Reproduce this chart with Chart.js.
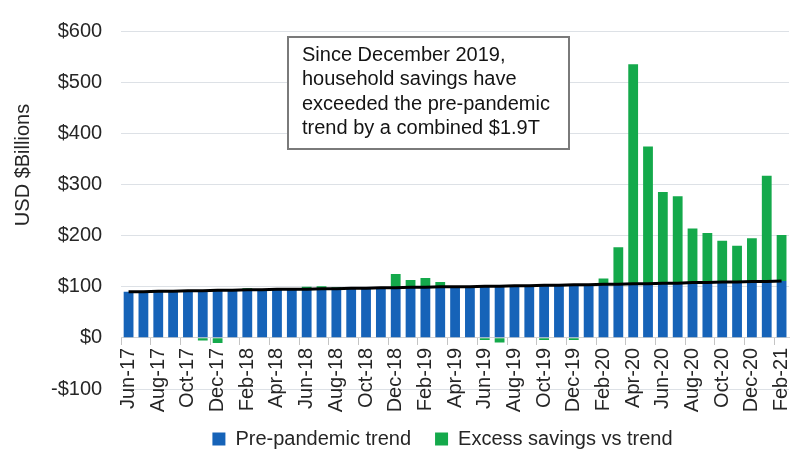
<!DOCTYPE html>
<html>
<head>
<meta charset="utf-8">
<script src="https://cdn.jsdelivr.net/npm/chart.js@4.4.1/dist/chart.umd.min.js"></script>
<style>
  html, body { margin: 0; padding: 0; background: #ffffff; }
  #wrap { width: 797px; height: 451px; }
</style>
</head>
<body>
<div id="wrap"><canvas id="c" width="797" height="451"></canvas></div>
<script>
// ---------- data ----------
const MONTHS = [
  'Jun-17','Jul-17','Aug-17','Sep-17','Oct-17','Nov-17','Dec-17',
  'Jan-18','Feb-18','Mar-18','Apr-18','May-18','Jun-18','Jul-18','Aug-18','Sep-18','Oct-18','Nov-18','Dec-18',
  'Jan-19','Feb-19','Mar-19','Apr-19','May-19','Jun-19','Jul-19','Aug-19','Sep-19','Oct-19','Nov-19','Dec-19',
  'Jan-20','Feb-20','Mar-20','Apr-20','May-20','Jun-20','Jul-20','Aug-20','Sep-20','Oct-20','Nov-20','Dec-20',
  'Jan-21','Feb-21'
];
const PRE_PANDEMIC_TREND = [
  90, 90, 91, 91, 92, 92, 93,
  93, 94, 94, 95, 95, 95, 96, 96, 97, 97, 98, 98,
  99, 99, 100, 100, 100, 101, 101, 102, 102, 103, 103, 104,
  104, 105, 105, 106, 106, 107, 107, 108, 108, 109, 109, 110,
  110, 111
];
const EXCESS_SAVINGS = [
  -1, 0, 0, -1, -1, -5, -10,
  0, 3, 0, 0, 0, 5, 5, 3, 0, 0, 0, 27,
  14, 18, 9, 0, -1, -4, -9, 0, -1, -4, 0, -4,
  0, 11, 72, 429, 268, 178, 170, 106, 97, 81, 71, 85,
  207, 90
];
const Y_TICKS = [-100, 0, 100, 200, 300, 400, 500, 600];
const SERIES_NAMES = ['Pre-pandemic trend', 'Excess savings vs trend'];
const AXIS_TITLE = 'USD $Billions';
const NOTE_LINES = [
  'Since December 2019,',
  'household savings have',
  'exceeded the pre-pandemic',
  'trend by a combined $1.9T'
];

// ---------- style ----------
const FONT = '"Liberation Sans", Arial, Helvetica, sans-serif';
const TEXT = '#262626';
const BLUE = '#1663b8';
const GREEN = '#14a94b';
const GRID = '#dde1e6';
const LEGEND_DX = 32, LEGEND_DY = 16;

Chart.defaults.font.family = FONT;
Chart.defaults.font.size = 20;
Chart.defaults.color = TEXT;

const extras = {
  id: 'extras',
  afterLayout(chart) {
    const lg = chart.legend;
    if (lg) {
      lg.left += LEGEND_DX; lg.right += LEGEND_DX;
      lg.top += LEGEND_DY; lg.bottom += LEGEND_DY;
    }
  },
  afterDraw(chart) {
    const ctx = chart.ctx;
    // y axis title
    ctx.save();
    ctx.font = '20px ' + FONT;
    ctx.fillStyle = TEXT;
    ctx.translate(23, 165);
    ctx.rotate(-Math.PI / 2);
    ctx.textAlign = 'center';
    ctx.textBaseline = 'middle';
    ctx.fillText(AXIS_TITLE, 0, 0);
    ctx.restore();
    // annotation box
    ctx.save();
    const bx = 288, by = 37, bw = 281, bh = 112;
    ctx.fillStyle = '#ffffff';
    ctx.fillRect(bx, by, bw, bh);
    ctx.strokeStyle = '#7a7a7a';
    ctx.lineWidth = 2;
    ctx.strokeRect(bx, by, bw, bh);
    ctx.font = '20px ' + FONT;
    ctx.fillStyle = '#141414';
    ctx.textAlign = 'left';
    ctx.textBaseline = 'alphabetic';
    NOTE_LINES.forEach((t, i) => ctx.fillText(t, 302, 61 + i * 24.3));
    ctx.restore();
  }
};

new Chart(document.getElementById('c'), {
  type: 'bar',
  data: {
    labels: MONTHS,
    datasets: [
      { label: SERIES_NAMES[0], data: PRE_PANDEMIC_TREND, backgroundColor: BLUE,
        stack: 'bars', order: 1, barPercentage: 0.66, categoryPercentage: 1.0 },
      { label: SERIES_NAMES[1], data: EXCESS_SAVINGS, backgroundColor: GREEN,
        stack: 'bars', order: 1, barPercentage: 0.66, categoryPercentage: 1.0 },
      { type: 'line', label: 'trend line', data: PRE_PANDEMIC_TREND, borderColor: '#000000',
        borderWidth: 3, pointRadius: 0, tension: 0, stack: 'trendline', order: 0, fill: false }
    ]
  },
  options: {
    responsive: false,
    animation: false,
    layout: { padding: { left: 32, right: 8, top: 22, bottom: 8 } },
    plugins: {
      tooltip: { enabled: false },
      legend: {
        position: 'bottom',
        labels: {
          boxWidth: 13, boxHeight: 13, padding: 24, color: TEXT,
          font: { size: 20 },
          filter: item => item.datasetIndex < 2
        }
      }
    },
    scales: {
      x: {
        type: 'category',
        position: { y: 0 },
        stacked: true,
        offset: true,
        afterFit: s => { s.paddingLeft = 0; s.paddingRight = 0; },
        grid: {
          offset: true, drawOnChartArea: false, drawTicks: true, tickLength: 7,
          color: c => (c.index % 2 === 0 ? '#c4c4c4' : 'rgba(0,0,0,0)')
        },
        border: { display: true, color: '#d2d2d2', width: 1 },
        ticks: {
          autoSkip: false, minRotation: 90, maxRotation: 90, padding: 3,
          color: TEXT, font: { size: 20 },
          callback: (v, i) => (i % 2 === 0 ? MONTHS[i] : '')
        }
      },
      y: {
        stacked: true,
        min: -100, max: 600,
        afterBuildTicks: s => { s.ticks = Y_TICKS.map(v => ({ value: v })); },
        grid: { color: GRID, lineWidth: 1, drawTicks: false },
        border: { display: false },
        ticks: {
          padding: 19, color: TEXT, font: { size: 20 },
          callback: v => (v < 0 ? '-$' + Math.abs(v) : '$' + v)
        }
      }
    }
  },
  plugins: [extras]
});
</script>
</body>
</html>
